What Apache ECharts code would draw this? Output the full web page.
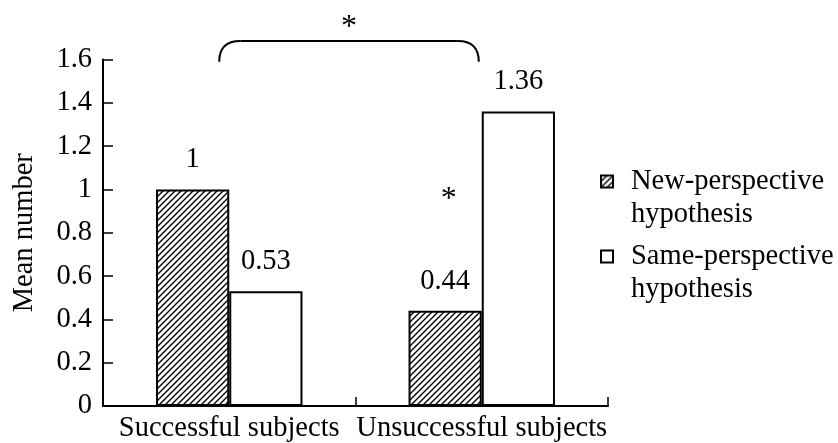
<!DOCTYPE html>
<html><head><meta charset="utf-8">
<script src="https://cdn.jsdelivr.net/npm/echarts@6/dist/echarts.min.js"></script>
<style>html,body{margin:0;padding:0;background:#fff}#c{width:838px;height:443px}</style>
</head><body><div id="c"></div>
<script>
// ---- data ----
const categories = ['Successful subjects', 'Unsuccessful subjects'];
const seriesNames = ['New-perspective hypothesis', 'Same-perspective hypothesis'];
const newPerspective = [1, 0.44];
const samePerspective = [0.53, 1.36];
const yMin = 0, yMax = 1.6, yInterval = 0.2;
const yAxisTitle = 'Mean number';
const sigMarks = ['*', '*'];

// ---- styling ----
const FONT = 'Liberation Serif';
const FS = 28.5;
const INK = '#000';

function hatch() {
  const c = document.createElement('canvas');
  c.width = 6; c.height = 6;
  const g = c.getContext('2d');
  g.fillStyle = '#fff'; g.fillRect(0, 0, 6, 6);
  g.strokeStyle = '#000'; g.lineWidth = 1.4;
  g.beginPath();
  g.moveTo(-1, 1); g.lineTo(1, -1);
  g.moveTo(-1, 7); g.lineTo(7, -1);
  g.moveTo(5, 7); g.lineTo(7, 5);
  g.stroke();
  return c;
}

const chart = echarts.init(document.getElementById('c'), null, {renderer: 'canvas'});
const labelCfg = {show: true, position: 'top', distance: 15, color: INK, fontFamily: FONT, fontSize: FS};

chart.setOption({
  animation: false,
  backgroundColor: '#fff',
  grid: {left: 103, right: 230, top: 59.5, bottom: 35, containLabel: false},
  legend: {
    orient: 'vertical', left: 600, top: 132, padding: 0,
    itemWidth: 12, itemHeight: 12, itemGap: -24,
    icon: 'rect',
    itemStyle: {borderWidth: 2},
    formatter: n => '\n' + n.replace(' ', '\n'),
    textStyle: {fontFamily: FONT, fontSize: FS, color: INK, lineHeight: 33, padding: [0, 0, 0, 13]},
    data: seriesNames
  },
  xAxis: {
    type: 'category', data: categories,
    axisLine: {lineStyle: {color: INK, width: 2}},
    axisTick: {show: true, inside: true, length: 9, lineStyle: {color: INK, width: 1.5}},
    axisLabel: {color: INK, fontFamily: FONT, fontSize: FS, margin: 8, interval: 0}
  },
  yAxis: {
    type: 'value', min: yMin, max: yMax, interval: yInterval,
    name: yAxisTitle, nameLocation: 'middle', nameGap: 64,
    nameTextStyle: {color: INK, fontFamily: FONT, fontSize: FS},
    axisLine: {show: true, lineStyle: {color: INK, width: 2}},
    axisTick: {show: true, inside: true, length: 10, lineStyle: {color: INK, width: 1.5}},
    axisLabel: {color: INK, fontFamily: FONT, fontSize: FS, margin: 11},
    splitLine: {show: false}
  },
  series: [
    {name: seriesNames[0], type: 'bar', data: newPerspective, barGap: '0%', barCategoryGap: '42%',
     itemStyle: {color: {image: hatch(), repeat: 'repeat'}, borderColor: INK, borderWidth: 2},
     label: labelCfg},
    {name: seriesNames[1], type: 'bar', data: samePerspective, barGap: '0%', barCategoryGap: '42%',
     itemStyle: {color: '#fff', borderColor: INK, borderWidth: 2},
     label: labelCfg}
  ]
});

// ---- annotations placed through the axes ----
const px = (cat, v) => chart.convertToPixel({gridIndex: 0}, [cat, v]);
const bL = px(0, 1.59), bR = px(1, 1.59), bT = px(0, 1.685);
const x1 = bL[0] - 10, x2 = bR[0] - 3, yb = bL[1], yt = bT[1], r = 21;
const starTop = px(0, 1.77);
const starMid = px(1, 0.97);
const line = {fill: null, stroke: INK, lineWidth: 2};
chart.setOption({
  graphic: [
    {type: 'bezierCurve', shape: {x1: x1, y1: yb, cpx1: x1, cpy1: yt, x2: x1 + r, y2: yt}, style: line},
    {type: 'line', shape: {x1: x1 + r, y1: yt, x2: x2 - r, y2: yt}, style: line},
    {type: 'bezierCurve', shape: {x1: x2 - r, y1: yt, cpx1: x2, cpy1: yt, x2: x2, y2: yb}, style: line},
    {type: 'text', x: (x1 + x2) / 2, y: starTop[1] + 5,
     style: {text: sigMarks[0], font: `32px "${FONT}"`, fill: INK, align: 'center', verticalAlign: 'middle'}},
    {type: 'text', x: starMid[0] - 33, y: starMid[1] + 4,
     style: {text: sigMarks[1], font: `32px "${FONT}"`, fill: INK, align: 'center', verticalAlign: 'middle'}}
  ]
});
</script>
</body></html>
